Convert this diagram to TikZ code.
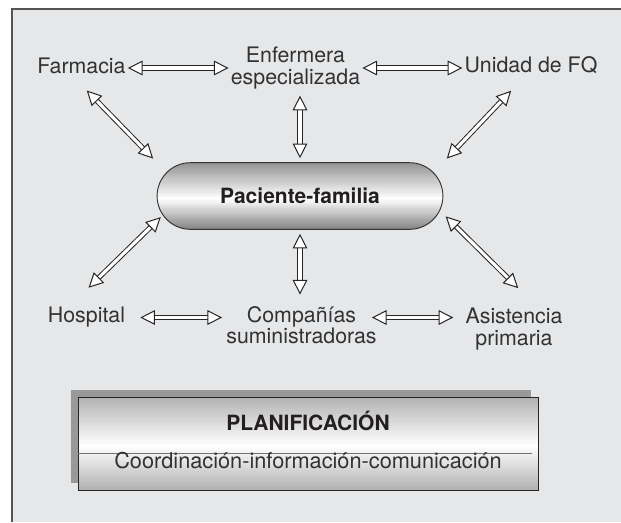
\documentclass[tikz,border=0pt]{standalone}
\usepackage{fontspec}
\setmainfont{TeX Gyre Heros}
\usepackage{xcolor}
\definecolor{panel}{RGB}{230,231,233}
\definecolor{frameline}{RGB}{85,85,85}
\definecolor{labeltext}{RGB}{50,50,50}
\definecolor{darktext}{RGB}{35,31,32}
\definecolor{shadowgray}{RGB}{153,153,153}
\usetikzlibrary{arrows.meta,shapes.misc,shadows,calc,positioning}

\tikzset{
  % vertical gray-white-gray band fill: top, middle, bottom (percent of black), place of the white band
  vshade/.style n args={4}{path picture={
    \foreach \k in {0,...,59}{
      \pgfmathsetmacro\shadeval{\k<#4 ? #1+(#2-#1)*\k/#4 : #2+(#3-#2)*(\k-#4)/(59-#4)}
      \fill[black!\shadeval]
        ($(path picture bounding box.north west)!\k/60!(path picture bounding box.south west)$)
        rectangle
        ($(path picture bounding box.north east)!{(\k+1.4)/60}!(path picture bounding box.south east)$);
    }}},
  entity/.style={font=\fontsize{16}{16}\selectfont, text=labeltext, align=center, inner sep=1.5pt},
  paciente/.style={rounded rectangle, draw=black!80, line width=0.7pt,
    vshade={42}{0}{48}{32},
    minimum width=221pt, minimum height=50pt, text=darktext,
    font=\bfseries\fontsize{15.75}{16}\selectfont},
  planbox/.style={rectangle, draw=black!85, line width=0.75pt,
    vshade={30}{0}{30}{31},
    minimum width=345pt, minimum height=69.75pt,
    drop shadow={shadow xshift=-5.25pt, shadow yshift=5.25pt, fill=shadowgray, opacity=1}},
  dblarrow/.style={draw=black!85, line width=0.75pt, double=white, double distance=2.3pt,
    {Triangle[fill=white,length=11pt,width=11pt,line width=0.75pt]}-{Triangle[fill=white,length=11pt,width=11pt,line width=0.75pt]}},
}

\begin{document}
\begin{tikzpicture}[x=0.75pt,y=0.75pt]
\useasboundingbox (0,0) rectangle (621,-522);
% panel
\fill[panel] (12,-9) rectangle (621,-522);
\draw[frameline, line width=1.1pt] (12,-522) -- (12,-9) -- (621,-9);

% nodes
\node[entity] (farm) at (81.5,-65.5) {Farmacia};
\node[entity] (enf) at (295.5,-68) {Enfermera\\especializada};
\node[entity] (unid) at (531,-65) {Unidad de FQ};
\node[paciente] (pac) at (300,-196) {Paciente-familia};
\node[entity] (hosp) at (86.5,-317.5) {Hospital};
\node[entity] (comp) at (301.5,-325) {Compañías\\suministradoras};
\node[entity] (asis) at (514,-329) {Asistencia\\primaria};

% arrows
\draw[dblarrow] (enf.west -| farm.east) -- (enf.west);
\draw[dblarrow] (enf.east) -- (enf.east -| unid.west);
\draw[dblarrow, shorten <=15.5pt, shorten >=3.75pt] (farm.228) -- (pac.west |- pac.north);
\draw[dblarrow, shorten <=15.4pt, shorten >=3.75pt] (unid.242) -- (pac.east |- pac.north);
\draw[dblarrow, shorten <=3.4pt, shorten >=3pt] (pac.north |- enf.south) -- (pac.north);
\draw[dblarrow, shorten <=3pt, shorten >=7pt] (pac.south) -- (pac.south |- comp.north);
\draw[dblarrow, shorten <=18.7pt, shorten >=2pt] (hosp.142) -- (pac.188);
\draw[dblarrow, shorten <=19pt, shorten >=6pt] (asis.46) -- (pac.354);
\draw[dblarrow, shorten <=9.75pt, shorten >=1.5pt] (hosp.east) -- (hosp.east -| comp.west);
\draw[dblarrow, shorten <=-5.25pt, shorten >=7.5pt] (comp.east |- hosp.east) -- (asis.west |- hosp.east);

% planificacion
\node[planbox] (plan) at (308,-443.5) {};
\draw[black!55, line width=0.6pt] ([yshift=-7.1pt]plan.west) -- ([yshift=-7.1pt,xshift=-5.25pt]plan.east);
\node[anchor=base, text=darktext, font=\bfseries\fontsize{15.75}{16}\selectfont] (plantit) at ([yshift=10.1pt]plan.center) {PLANIFICACIÓN};
\node[anchor=base, text=labeltext, font=\fontsize{16.3}{17}\selectfont] (plansub) at ([yshift=-19.1pt]plan.center) {Coordinación-información-comunicación};
\end{tikzpicture}
\end{document}
